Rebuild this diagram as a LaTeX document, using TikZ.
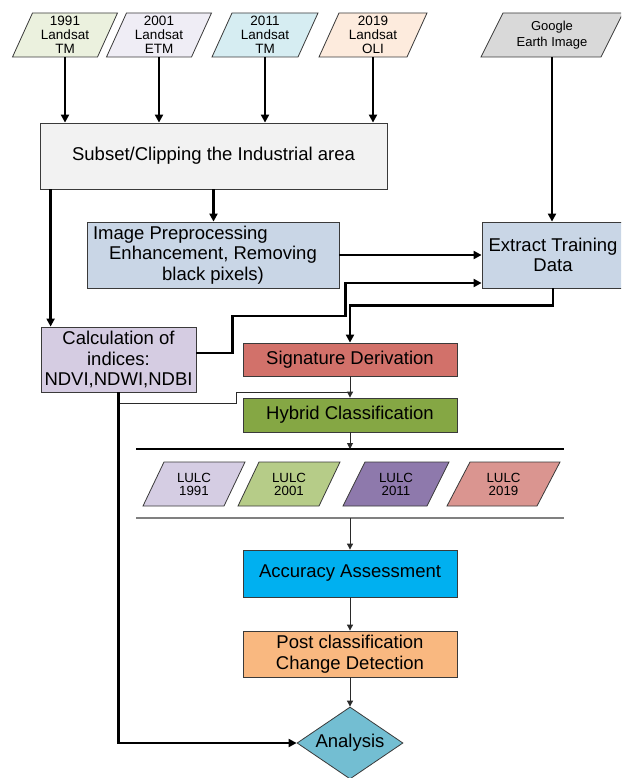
\documentclass[tikz,border=0pt]{standalone}
\usepackage{fontspec}
\setmainfont{Liberation Sans}
\usetikzlibrary{arrows.meta,shapes.geometric}
\definecolor{linegray}{HTML}{3A3A3A}
\definecolor{thingray}{HTML}{2A2A2A}
\definecolor{pone}{HTML}{EBF1DE}
\definecolor{ptwo}{HTML}{EFEDF5}
\definecolor{pthree}{HTML}{D6EDF2}
\definecolor{pfour}{HTML}{FDEBDD}
\definecolor{pgoogle}{HTML}{D9D9D9}
\definecolor{subc}{HTML}{F2F2F2}
\definecolor{bluec}{HTML}{C9D6E6}
\definecolor{calcc}{HTML}{D5CCE2}
\definecolor{sigc}{HTML}{D2716A}
\definecolor{hybc}{HTML}{85A744}
\definecolor{lone}{HTML}{D5CDE3}
\definecolor{ltwo}{HTML}{B6CC88}
\definecolor{lthree}{HTML}{8E79AC}
\definecolor{lfour}{HTML}{DA9590}
\definecolor{accc}{HTML}{00B0F0}
\definecolor{postc}{HTML}{F9B880}
\definecolor{anc}{HTML}{73BED2}
\newcommand\bigtxt{\fontsize{18.5}{20.5}\selectfont}
\newcommand\toptxt{\fontsize{13.5}{14}\selectfont}
\newcommand\googtxt{\fontsize{13}{16}\selectfont}
\newcommand\lulctxt{\fontsize{13.3}{13}\selectfont}
% name, cx, cy, bottom width, height, slant, fill, font, text
\newcommand\pgramnode[9]{%
  \draw[boxline,fill=#7] ({#2-#4/2-#6/2},{#3+#5/2}) -- ++(#4,0) -- ++(#6,-#5) -- ++(-#4,0) -- cycle;
  \node[inner sep=0pt, minimum width=#4pt, minimum height=#5pt, align=center, font=#8] (#1) at (#2,#3) {#9};
}
\begin{document}
\begin{tikzpicture}[x=1pt,y=-1pt,
  boxline/.style={draw=linegray, line width=0.8pt},
  box/.style={boxline, inner sep=0pt, align=center, font=\bigtxt},
  thickarrow/.style={line width=2.4pt, -{Triangle[length=8pt,width=8pt]}},
  thickline/.style={line width=2.4pt},
  thinarrow/.style={line width=0.9pt, draw=thingray, -{Triangle[length=6pt,width=6pt]}},
  thinline/.style={line width=0.9pt, draw=thingray}]
\useasboundingbox (0,0) rectangle (621,778);
\fill[white] (0,0) rectangle (621,778);
\clip (0,0) rectangle (621,778);

% top inputs
\pgramnode{p1}{65}{35}{85}{44}{20}{pone}{\toptxt}{1991\\Landsat\\TM}
\pgramnode{p2}{159}{35}{85}{44}{20}{ptwo}{\toptxt}{2001\\Landsat\\ETM}
\pgramnode{p3}{265}{35}{86}{44}{20}{pthree}{\toptxt}{2011\\Landsat\\TM}
\pgramnode{p4}{373}{35}{88}{44}{20}{pfour}{\toptxt}{2019\\Landsat\\OLI}
\pgramnode{google}{552}{35}{120}{44}{22}{pgoogle}{\googtxt}{Google\\Earth Image}

% boxes
\node[box, fill=subc, minimum width=347pt, minimum height=66pt] (subset) at (213.5,156) {Subset/Clipping the Industrial area};
\node[box, fill=bluec, minimum width=252pt, minimum height=66pt] (prep) at (213,255) {\makebox[240pt][l]{Image Preprocessing}\\Enhancement, Removing\\black pixels)};
\node[box, fill=bluec, minimum width=142pt, minimum height=66pt] (extract) at (553,255) {Extract Training\\Data};
\node[box, fill=calcc, minimum width=155pt, minimum height=65pt] (calc) at (118.5,359.5) {Calculation of\\indices:\\NDVI,NDWI,NDBI};
\node[box, fill=sigc, minimum width=214pt, minimum height=33pt] (sig) at (350,359.5) {Signature Derivation};
\node[box, fill=hybc, minimum width=214pt, minimum height=34pt] (hyb) at (350,415) {Hybrid Classification};
\node[box, fill=accc, minimum width=214pt, minimum height=47pt] (acc) at (350,573.5) {Accuracy Assessment};
\node[box, fill=postc, minimum width=214pt, minimum height=46pt] (post) at (350,654) {Post classification\\Change Detection};
\node[diamond, boxline, fill=anc, aspect=1.47, minimum width=106pt, minimum height=72pt, inner sep=0pt, font=\bigtxt] (ana) at (350,743) {Analysis};

% LULC outputs
\pgramnode{l1}{194}{484}{81}{44}{21}{lone}{\lulctxt}{LULC\\1991}
\pgramnode{l2}{289}{484}{81}{44}{21}{ltwo}{\lulctxt}{LULC\\2001}
\pgramnode{l3}{396}{484}{84}{44}{22}{lthree}{\lulctxt}{LULC\\2011}
\pgramnode{l4}{503.5}{484}{90}{44}{23}{lfour}{\lulctxt}{LULC\\2019}

% separator lines
\coordinate (la) at (136,449);
\coordinate (lb) at (564,449);
\coordinate (lc) at (136,518);
\coordinate (ld) at (564,518);
\draw[line width=1.1pt] (la) -- (lb);
\draw[line width=1.1pt, draw=gray] (lc) -- (ld);

% connectors
\foreach \p in {p1,p2,p3,p4}
  \draw[thickarrow] (\p.south) -- (\p.south |- subset.north);
\draw[thickarrow] (google.south) -- (google.south |- extract.north);
\draw[thickarrow] (subset.south) -- (subset.south |- prep.north);
\draw[thickarrow] ([xshift=11pt]subset.south west) -- ([xshift=11pt]subset.south west |- calc.north);
\draw[thickarrow] (prep.east) -- (prep.east -| extract.west);
\draw[thickarrow] ([yshift=6.5pt]calc.east) -- ++(36,0) -- ++(0,-37) -- ++(113,0) |- ([yshift=-28pt]extract.west);
\draw[thickarrow] (extract.south) -- ++(0,17) -| (sig.north);
\draw[thinarrow] (sig.south) -- (hyb.north);
\draw[thinline] ([yshift=-11pt]calc.south) -- ++(118,0) -- ++(0,-11) -- ++(114,0);
\draw[thinarrow] (hyb.south) -- (hyb.south |- la);
\draw[thinarrow] (acc.north |- lc) -- (acc.north);
\draw[thinarrow] (acc.south) -- (post.north);
\draw[thinarrow] (post.south) -- (ana.north);
\draw[thickarrow] (calc.south) |- (ana.west);
\end{tikzpicture}
\end{document}
